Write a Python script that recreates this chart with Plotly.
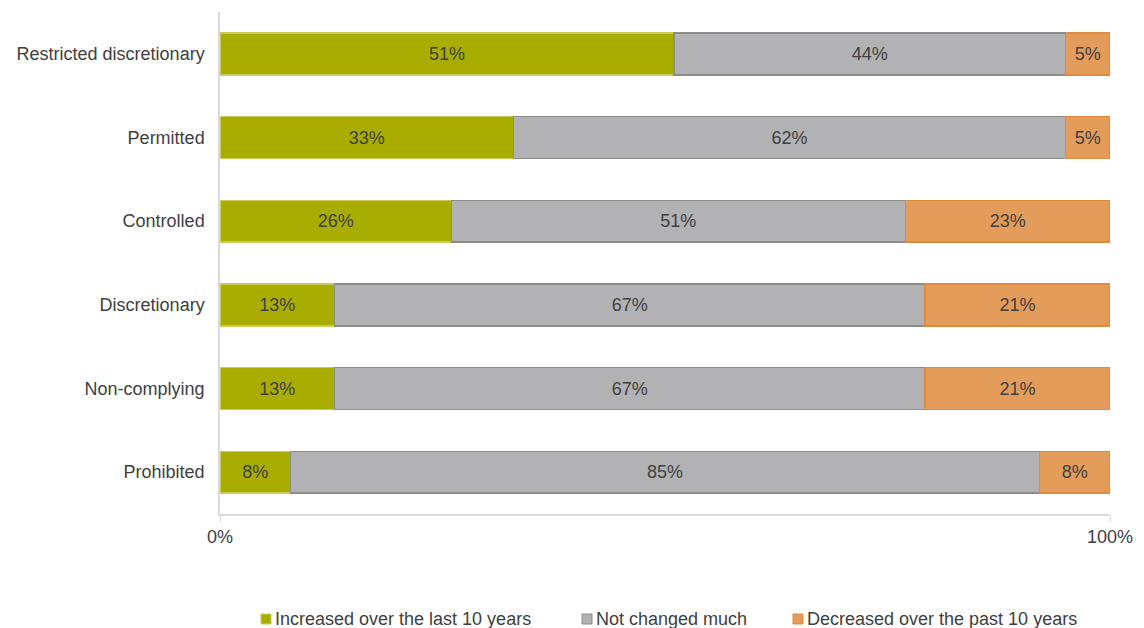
import plotly.graph_objects as go

categories = ["Restricted discretionary", "Permitted", "Controlled",
              "Discretionary", "Non-complying", "Prohibited"]
increased = [51, 33, 26, 13, 13, 8]
not_changed = [44, 62, 51, 67, 67, 85]
decreased = [5, 5, 23, 21, 21, 8]

series = [
    ("Increased over the last 10 years", increased, "#A9AD00", "#C9CC5A"),
    ("Not changed much", not_changed, "#B2B2B4", "#8C8C8C"),
    ("Decreased over the past 10 years", decreased, "#E49C5A", "#E08B3C"),
]

FONT = "Liberation Sans, Arial, sans-serif"
TEXT_COLOR = "#404040"

# plot-area geometry in pixels (used for the hand-placed legend)
W, H = 1144, 628
L, R, T, B = 220, 34, 12, 114
PW, PH = W - L - R, H - T - B

def px_x(px):
    return (px - L) / PW

def px_y(py):
    return (H - B - py) / PH

fig = go.Figure()
for name, vals, fill, edge in series:
    fig.add_trace(go.Bar(
        y=categories, x=vals, name=name, orientation="h",
        marker=dict(color=fill, line=dict(color=edge, width=1.5)),
        text=[f"{v}%" for v in vals], textposition="inside",
        insidetextanchor="middle",
        textfont=dict(family=FONT, size=18, color=TEXT_COLOR),
        width=0.5,
        hoverinfo="skip",
        showlegend=False,
    ))

# legend row: small square swatch followed by the series name
legend_x = [261, 582, 793]
legend_cy = 619
for (name, _, fill, edge), lx in zip(series, legend_x):
    fig.add_shape(
        type="rect", xref="paper", yref="paper",
        x0=px_x(lx), x1=px_x(lx + 10),
        y0=px_y(legend_cy + 5), y1=px_y(legend_cy - 5),
        fillcolor=fill, line=dict(color=edge, width=1),
    )
    fig.add_annotation(
        xref="paper", yref="paper", x=px_x(lx + 12), y=px_y(legend_cy),
        xanchor="left", yanchor="middle", showarrow=False,
        text=name, font=dict(family=FONT, size=18, color=TEXT_COLOR),
    )

fig.update_layout(
    barmode="stack",
    barnorm="percent",
    width=W, height=H,
    margin=dict(l=L, r=R, t=T, b=B, autoexpand=False),
    paper_bgcolor="white", plot_bgcolor="white",
    font=dict(family=FONT, size=18, color=TEXT_COLOR),
    showlegend=False,
)
fig.update_xaxes(
    range=[0, 100], tickvals=[0, 100], ticktext=["0%", "100%"],
    showgrid=False, zeroline=False, showline=True, linecolor="#D9D9D9", linewidth=1.5,
    ticks="outside", ticklen=6, tickcolor="#D9D9D9",
    tickfont=dict(family=FONT, size=18, color=TEXT_COLOR),
)
fig.update_yaxes(
    categoryorder="array", categoryarray=categories[::-1],
    showgrid=False, zeroline=False, showline=True, linecolor="#D9D9D9", linewidth=1.5,
    ticks="", ticklabelstandoff=10,
    tickfont=dict(family=FONT, size=18, color=TEXT_COLOR),
)

fig.write_html("out.html")
